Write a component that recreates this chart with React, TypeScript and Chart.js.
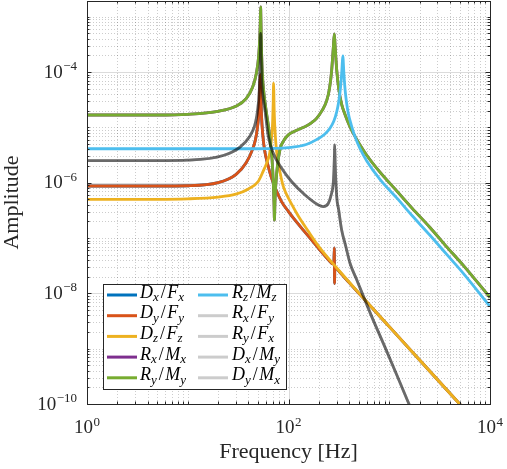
import { useEffect, useRef } from "react";
import { Chart, registerables } from "chart.js";

Chart.register(...registerables);

// frequencies [Hz] and amplitudes

// D_x/F_x and D_y/F_y (identical, D_x/F_x sits under D_y/F_y)
const dFreq = [1, 5, 10, 20, 30, 38, 44, 47, 49, 50.5, 51.5, 52, 52.6, 53.2, 54, 55.5, 58, 62, 67, 75, 85, 100, 120, 150, 200, 250, 275, 282, 285, 286.5, 288, 292, 320, 400, 513, 700, 1000, 2000, 5000, 10000];
const dAmp = [8.7e-7, 8.7e-7, 8.8e-7, 1.0e-6, 1.4e-6, 2.3e-6, 4.0e-6, 6.0e-6, 9.5e-6, 1.6e-5, 3.2e-5, 6.0e-5, 9.0e-5, 4.0e-5, 1.6e-5, 7.5e-6, 3.8e-6, 2.2e-6, 1.3e-6, 7.5e-7, 4.6e-7, 3.0e-7, 1.95e-7, 1.2e-7, 6.4e-8, 4.0e-8, 3.4e-8, 3.6e-8, 6.6e-8, 1.5e-8, 2.6e-8, 2.9e-8, 2.45e-8, 1.56e-8, 9.5e-9, 5.1e-9, 2.5e-9, 6.25e-10, 1.0e-10, 2.5e-11];

// D_z/F_z
const dzFreq = [1, 5, 10, 20, 30, 40, 50, 56, 61, 65, 68, 69.5, 70.5, 71.1, 71.5, 72, 73, 75, 78, 82, 88, 95, 108, 125, 156, 200, 300, 513, 1000, 2000, 5000, 10000];
const dzAmp = [5.0e-7, 5.0e-7, 5.1e-7, 5.5e-7, 6.2e-7, 7.7e-7, 1.05e-6, 1.6e-6, 2.3e-6, 3.4e-6, 6.5e-6, 1.2e-5, 2.8e-5, 6.3e-5, 4.2e-5, 2.2e-5, 1.1e-5, 5.0e-6, 2.6e-6, 1.6e-6, 9.0e-7, 6.3e-7, 4.0e-7, 2.5e-7, 1.35e-7, 7.0e-8, 2.9e-8, 9.6e-9, 2.5e-9, 6.25e-10, 1.0e-10, 2.5e-11];

// R_x/M_x and R_y/M_y (identical)
const rFreq = [1, 5, 10, 20, 30, 38, 44, 48, 50.5, 51.8, 52.5, 52.9, 53.3, 54, 55, 57, 60, 63, 66, 68.5, 70.5, 71.8, 72.5, 73.5, 76.4, 82.4, 90, 99.6, 115, 130, 146, 170, 190, 215, 239, 255, 268, 278.6, 285, 290, 301, 315, 337, 360, 408, 440, 513, 600, 809, 1186, 1700, 2537, 3700, 5433, 10000];
const rAmp = [1.67e-5, 1.67e-5, 1.72e-5, 1.95e-5, 2.4e-5, 3.3e-5, 5.3e-5, 9.5e-5, 1.9e-4, 4.0e-4, 8.0e-4, 1.5e-3, 8.0e-4, 2.5e-4, 9.5e-5, 4.2e-5, 2.0e-5, 1.1e-5, 5.5e-6, 2.8e-6, 1.1e-6, 4.2e-7, 2.1e-7, 5.0e-7, 1.5e-6, 4.0e-6, 5.8e-6, 7.3e-6, 8.5e-6, 9.4e-6, 1.03e-5, 1.22e-5, 1.45e-5, 2.0e-5, 3.0e-5, 5.0e-5, 1.05e-4, 2.8e-4, 4.9e-4, 3.0e-4, 1.09e-4, 5.0e-5, 2.6e-5, 1.8e-5, 1.02e-5, 7.8e-6, 4.8e-6, 3.1e-6, 1.55e-6, 7.1e-7, 3.4e-7, 1.55e-7, 7.0e-8, 3.2e-8, 8.4e-9];

// R_z/M_z
const rzFreq = [1, 50, 100, 150, 190, 230, 258, 282, 301, 315, 324, 333, 339, 343, 347, 350, 354, 358, 366, 378, 392, 420, 457, 513, 600, 809, 1186, 1700, 2537, 3700, 5433, 10000];
const rzAmp = [4.1e-6, 4.1e-6, 4.3e-6, 4.9e-6, 6.0e-6, 7.6e-6, 9.6e-6, 1.3e-5, 1.9e-5, 2.9e-5, 4.2e-5, 7.0e-5, 1.1e-4, 1.6e-4, 1.95e-4, 1.5e-4, 1.0e-4, 7.2e-5, 4.4e-5, 2.7e-5, 1.8e-5, 1.1e-5, 6.8e-6, 4.1e-6, 2.45e-6, 1.15e-6, 5.3e-7, 2.5e-7, 1.12e-7, 5.1e-8, 2.3e-8, 5.8e-9];

// coupling terms R_x/F_y, R_y/F_x, D_x/M_y, D_y/M_x (all on top of each other)
const cFreq = [1, 5, 10, 22.5, 33, 41.5, 46, 48.3, 50.5, 51.8, 52.5, 52.9, 53.3, 54, 55.5, 58.4, 63.1, 70.6, 85.5, 107.6, 146, 198, 221, 248, 265, 278, 283, 286, 287.5, 290, 301, 315, 337, 370, 408, 470, 552, 670, 900, 1200, 1535, 2000];
const cAmp = [2.5e-6, 2.5e-6, 2.55e-6, 3.1e-6, 4.4e-6, 7.0e-6, 1.05e-5, 1.55e-5, 3.0e-5, 7.0e-5, 1.8e-4, 5.0e-4, 2.2e-4, 8.0e-5, 4.0e-5, 2.06e-5, 6.8e-6, 3.4e-6, 1.82e-6, 1.04e-6, 6.0e-7, 3.95e-7, 3.7e-7, 4.2e-7, 6.0e-7, 9.7e-7, 1.8e-6, 3.5e-6, 4.8e-6, 2.5e-6, 5.6e-7, 3.2e-7, 1.39e-7, 7.1e-8, 3.5e-8, 1.85e-8, 9.0e-9, 3.8e-9, 1.1e-9, 3.2e-10, 1.1e-10, 3.6e-11];

const seriesNames = ["D_x/F_x", "D_y/F_y", "D_z/F_z", "R_x/M_x", "R_y/M_y", "R_z/M_z", "R_x/F_y", "R_y/F_x", "D_x/M_y", "D_y/M_x"];
const seriesFreq = [dFreq, dFreq, dzFreq, rFreq, rFreq, rzFreq, cFreq, cFreq, cFreq, cFreq];
const seriesAmp = [dAmp, dAmp, dzAmp, rAmp, rAmp, rzAmp, cAmp, cAmp, cAmp, cAmp];
const seriesColors = ["#0072BD", "#D95319", "#EDB120", "#7E2F8E", "#77AC30", "#4DBEEE", "rgba(0,0,0,0.2)", "rgba(0,0,0,0.2)", "rgba(0,0,0,0.2)", "rgba(0,0,0,0.2)"];

const xTicks = [1, 100, 10000];
const yTicks = [1e-10, 1e-8, 1e-6, 1e-4];
const xMin = 1;
const xMax = 1e4;
const yMin = 1e-10;
const yMax = 1.92e-3;

const serif = '"Liberation Serif", "Times New Roman", serif';
const ink = "#262626";

function logGrid(min: number, max: number) {
  const out: number[] = [];
  for (let k = Math.floor(Math.log10(min)); k <= Math.ceil(Math.log10(max)); k++) {
    for (let m = 1; m < 10; m++) {
      const v = m * Math.pow(10, k);
      if (v > min * 1.0001 && v < max * 0.9999) out.push(v);
    }
  }
  return out;
}

const isMajor = (v: number, ticks: number[]) => ticks.some((t) => Math.abs(v / t - 1) < 1e-6);

function drawPow(ctx: CanvasRenderingContext2D, v: number, x: number, y: number, align: "right" | "center") {
  const e = Math.round(Math.log10(v));
  const exp = e < 0 ? "\u2212" + -e : String(e);
  ctx.font = `19px ${serif}`;
  const wb = ctx.measureText("10").width;
  ctx.font = `13px ${serif}`;
  const we = ctx.measureText(exp).width;
  const total = wb + we + 0.5;
  const x0 = align === "right" ? x - total : x - total / 2;
  ctx.textAlign = "left";
  ctx.textBaseline = "alphabetic";
  ctx.font = `19px ${serif}`;
  ctx.fillText("10", x0, y);
  ctx.font = `13px ${serif}`;
  ctx.fillText(exp, x0 + wb + 0.5, y - 7.5);
}

// draws e.g. "D_x/F_x" as math italic with subscripts
function drawTerm(ctx: CanvasRenderingContext2D, label: string, x: number, y: number) {
  const parts = label.split("/");
  let cx = x;
  parts.forEach((p, i) => {
    if (i > 0) {
      ctx.font = `18px ${serif}`;
      ctx.fillText("/", cx + 1.5, y);
      cx += ctx.measureText("/").width + 3;
    }
    const [base, sub] = p.split("_");
    ctx.font = `italic 18px ${serif}`;
    ctx.fillText(base, cx, y);
    cx += ctx.measureText(base).width;
    if (sub) {
      ctx.font = `italic 13px ${serif}`;
      ctx.fillText(sub, cx, y + 3.5);
      cx += ctx.measureText(sub).width + 0.5;
    }
  });
}

const matlabAxes = {
  id: "matlabAxes",
  beforeDatasetsDraw(chart: Chart) {
    const { ctx, chartArea: a } = chart;
    const xs = chart.scales.x;
    const ys = chart.scales.y;
    ctx.save();
    ctx.lineWidth = 1;
    const xv = logGrid(xMin, xMax);
    const yv = logGrid(yMin, yMax);
    // minor grid (dotted)
    ctx.strokeStyle = "rgba(0,0,0,0.2)";
    ctx.setLineDash([1, 2]);
    ctx.beginPath();
    xv.filter((v) => !isMajor(v, xTicks)).forEach((v) => {
      const px = Math.round(xs.getPixelForValue(v)) + 0.5;
      ctx.moveTo(px, a.top);
      ctx.lineTo(px, a.bottom);
    });
    yv.filter((v) => !isMajor(v, yTicks)).forEach((v) => {
      const py = Math.round(ys.getPixelForValue(v)) + 0.5;
      ctx.moveTo(a.left, py);
      ctx.lineTo(a.right, py);
    });
    ctx.stroke();
    // major grid
    ctx.setLineDash([]);
    ctx.strokeStyle = "rgba(0,0,0,0.14)";
    ctx.beginPath();
    xv.filter((v) => isMajor(v, xTicks)).forEach((v) => {
      const px = Math.round(xs.getPixelForValue(v)) + 0.5;
      ctx.moveTo(px, a.top);
      ctx.lineTo(px, a.bottom);
    });
    yv.filter((v) => isMajor(v, yTicks)).forEach((v) => {
      const py = Math.round(ys.getPixelForValue(v)) + 0.5;
      ctx.moveTo(a.left, py);
      ctx.lineTo(a.right, py);
    });
    ctx.stroke();
    ctx.restore();
  },
  afterDatasetsDraw(chart: Chart) {
    const { ctx, chartArea: a } = chart;
    const xs = chart.scales.x;
    const ys = chart.scales.y;
    ctx.save();
    // ticks on all four sides, pointing inwards
    ctx.strokeStyle = ink;
    ctx.lineWidth = 1;
    ctx.beginPath();
    logGrid(xMin, xMax).forEach((v) => {
      const len = isMajor(v, xTicks) ? 4.5 : 2.5;
      const px = Math.round(xs.getPixelForValue(v)) + 0.5;
      ctx.moveTo(px, a.bottom);
      ctx.lineTo(px, a.bottom - len);
      ctx.moveTo(px, a.top);
      ctx.lineTo(px, a.top + len);
    });
    logGrid(yMin, yMax).forEach((v) => {
      const len = isMajor(v, yTicks) ? 4.5 : 2.5;
      const py = Math.round(ys.getPixelForValue(v)) + 0.5;
      ctx.moveTo(a.left, py);
      ctx.lineTo(a.left + len, py);
      ctx.moveTo(a.right, py);
      ctx.lineTo(a.right - len, py);
    });
    ctx.stroke();
    ctx.strokeRect(Math.round(a.left) + 0.5, Math.round(a.top) + 0.5, Math.round(a.width), Math.round(a.height));

    // tick labels
    ctx.fillStyle = ink;
    xTicks.forEach((v) => drawPow(ctx, v, xs.getPixelForValue(v), a.bottom + 29, "center"));
    yTicks.forEach((v) => drawPow(ctx, v, a.left - 10, ys.getPixelForValue(v) + 5.5, "right"));

    // axis titles
    ctx.font = `22px ${serif}`;
    ctx.textAlign = "center";
    ctx.fillText("Frequency [Hz]", (a.left + a.right) / 2, a.bottom + 54);
    ctx.save();
    ctx.translate(18, (a.top + a.bottom) / 2);
    ctx.rotate(-Math.PI / 2);
    ctx.fillText("Amplitude", 0, 0);
    ctx.restore();

    // legend, two columns
    const bx = a.left + 16;
    const bw = 183;
    const bh = 105;
    const by = a.bottom - 15 - bh;
    ctx.fillStyle = "#ffffff";
    ctx.fillRect(bx, by, bw, bh);
    ctx.strokeStyle = ink;
    ctx.lineWidth = 1;
    ctx.strokeRect(Math.round(bx) + 0.5, Math.round(by) + 0.5, bw, bh);
    ctx.textAlign = "left";
    seriesNames.forEach((name, i) => {
      const col = Math.floor(i / 5);
      const row = i % 5;
      const ly = by + 11 + row * 20.7;
      const lx = bx + 4 + col * 91;
      ctx.strokeStyle = seriesColors[i];
      ctx.lineWidth = 3;
      ctx.beginPath();
      ctx.moveTo(lx, ly);
      ctx.lineTo(lx + 30, ly);
      ctx.stroke();
      ctx.fillStyle = "#000000";
      drawTerm(ctx, name, lx + 33 + col * 1, ly + 2.5);
    });
    ctx.restore();
  },
};

export default function App() {
  const canvasRef = useRef<HTMLCanvasElement>(null);
  const chartRef = useRef<Chart | null>(null);

  useEffect(() => {
    if (!canvasRef.current) return;
    chartRef.current?.destroy();
    chartRef.current = new Chart(canvasRef.current, {
      type: "line",
      data: {
        datasets: seriesNames.map((name, i) => ({
          label: name,
          data: seriesFreq[i].map((f, j) => ({ x: f, y: seriesAmp[i][j] })),
          borderColor: seriesColors[i],
          backgroundColor: seriesColors[i],
          borderWidth: 2.8,
          pointRadius: 0,
          fill: false,
          cubicInterpolationMode: "monotone" as const,
          borderJoinStyle: "round" as const,
          order: -i,
        })),
      },
      options: {
        animation: false,
        responsive: false,
        events: [],
        layout: { padding: { left: 87, top: 1, right: 17, bottom: 65 } },
        plugins: { legend: { display: false }, tooltip: { enabled: false } },
        scales: {
          x: { type: "logarithmic", min: xMin, max: xMax, display: false },
          y: { type: "logarithmic", min: yMin, max: yMax, display: false },
        },
      },
      plugins: [matlabAxes],
    });
    return () => {
      chartRef.current?.destroy();
      chartRef.current = null;
    };
  }, []);

  return (
    <div style={{ position: "absolute", left: 0, top: 0, width: 507, height: 469, background: "#ffffff" }}>
      <canvas ref={canvasRef} width={507} height={469} />
    </div>
  );
}
